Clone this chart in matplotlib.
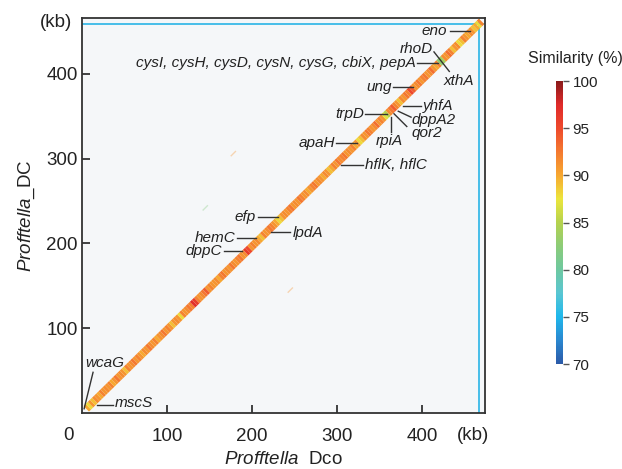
import numpy as np
import matplotlib
matplotlib.use("Agg")
import matplotlib.pyplot as plt
from matplotlib.colors import LinearSegmentedColormap, Normalize
from matplotlib.collections import LineCollection
from matplotlib.cm import ScalarMappable

plt.rcParams['font.family'] = ['Liberation Sans', 'DejaVu Sans']
plt.rcParams['mathtext.fontset'] = 'custom'
plt.rcParams['mathtext.it'] = 'Liberation Sans:italic'
plt.rcParams['mathtext.rm'] = 'Liberation Sans'

# ---------------- data ----------------
genome_dco_kb = 467   # Profftella Dco length (x)
genome_dc_kb = 459    # Profftella_DC length (y)
first_block_kb = 5
block_kb = 2.5
# similarity (%) of consecutive 2.5-kb alignment blocks along the diagonal
block_similarity = [
    90, 88, 91, 89, 91.5, 91, 90, 92, 91, 91.5,
    91, 92, 90, 91, 92.5, 91, 91.5, 91, 89, 92,
    91, 91.5, 92.5, 91, 92, 91, 90, 91.5, 91, 92.5,
    91.5, 91, 92, 90, 91, 91.5, 92.5, 91, 92, 91,
    89, 91, 91.5, 91, 88, 92, 91, 91.5, 92.5, 92,
    97, 96, 92, 91, 91.5, 92.5, 94, 91, 92, 91,
    91, 91.5, 90, 92, 92.5, 91, 91.5, 91, 92.5, 91.5,
    91, 92, 92.5, 91, 91.5, 96, 95, 91, 92, 91,
    91.5, 90, 89, 92, 91, 91.5, 92.5, 92, 91, 90,
    88, 89, 91, 91.5, 91, 92, 92.5, 91, 91.5, 91,
    92.5, 92, 91, 91.5, 90, 91, 92, 92.5, 91, 91.5,
    91, 90, 91.5, 91, 89, 90, 92, 91, 92.5, 91.5,
    92, 92.5, 91, 91.5, 91, 92, 90, 91, 88, 89,
    91.5, 91, 92.5, 92, 91, 91.5, 93, 91, 92, 91,
    87, 85, 91.5, 92.5, 94, 92, 91, 89, 91.5, 91,
    92.5, 92, 95, 94, 91, 91.5, 92.5, 91, 92, 92.5,
    91, 91.5, 93, 91, 90, 92, 83, 84, 91.5, 91,
    93, 92, 89, 91, 91.5, 88, 89, 92, 91, 90,
    91.5, 91, 89, 90, 88, 92]

# faint off-diagonal hits (x kb, y kb, similarity)
off_x = [145, 245, 178]
off_y = [242, 145, 306]
off_sim = [82, 91, 91]

genes = ['eno', 'rhoD', 'xthA', 'cysI, cysH, cysD, cysN, cysG, cbiX, pepA', 'ung', 'yhfA',
         'trpD', 'dppA2', 'qor2', 'rpiA', 'apaH', 'hflK, hflC', 'efp', 'lpdA', 'hemC',
         'dppC', 'wcaG', 'mscS']

# ---------------- layout for labels ----------------
label_pos = [(429, 451, 'right'), (413, 429, 'right'), (425, 392, 'left'),
             (392, 413, 'right'), (365, 385, 'right'), (401, 362, 'left'),
             (332, 353, 'right'), (388, 346, 'left'), (388, 330, 'left'),
             (361, 321, 'center'), (298, 318, 'right'), (333, 292, 'left'),
             (204, 231, 'right'), (248, 212, 'left'), (180, 206, 'right'),
             (165, 191, 'right'), (3.5, 59, 'left'), (39, 12, 'left')]
leader = [((433, 456), (451, 451)), ((414, 432), (426, 403)), None,
          ((394, 419), (413, 413)), ((366, 389), (385, 385)), ((378, 399), (362, 362)),
          ((333, 359), (353, 353)), ((372, 387), (356, 349)), ((367, 382), (353, 338)),
          ((363.5, 363.5), (349, 332)), ((299, 323), (318, 318)), ((305, 331), (293, 293)),
          ((207, 231), (231, 231)), ((222, 245), (213, 213)), ((182, 205), (206, 206)),
          ((167, 188), (191, 191)), ((13, 2.5), (48, 5)), ((17.6, 36.5), (9.4, 9.4))]

# ---------------- colormap ----------------
cmap = LinearSegmentedColormap.from_list('sim', [
    (0.0, '#2b5aa8'), (1/12, '#2a88d0'), (2/12, '#1fb8ec'), (3/12, '#5ac6d2'),
    (4/12, '#6ec8a0'), (5/12, '#8ccc78'), (6/12, '#b5d24e'), (7/12, '#ece63c'),
    (8/12, '#f7a830'), (9/12, '#f47a30'), (10/12, '#ee4a2c'), (11/12, '#e02a2a'),
    (1.0, '#8a1a1a')])
norm = Normalize(70, 100)

fig = plt.figure(figsize=(6.22, 4.69), dpi=100)
ax = fig.add_axes([82/622, 1 - 413/469, 403/622, 395/469])
ax.set_facecolor('#f5f7f9')
ax.set_xlim(0, 474)
ax.set_ylim(0, 466)

ratio = (genome_dc_kb + 5) / (genome_dco_kb + 5)
segs = []
for i in range(len(block_similarity)):
    x0 = first_block_kb + i * block_kb
    x1 = x0 + block_kb
    segs.append([(x0, x0 * ratio), (x1, x1 * ratio)])
lc = LineCollection(segs, colors=cmap(norm(np.array(block_similarity))), linewidths=5.6,
                    capstyle='butt', zorder=3)
ax.add_collection(lc)

for x, y, s in zip(off_x, off_y, off_sim):
    ax.plot([x - 2.5, x + 2.5], [y - 2.5, y + 2.5], color=cmap(norm(s)), lw=1.0, alpha=0.35,
            zorder=2)

ax.axvline(genome_dco_kb, color='#2ab4e6', lw=1.2, zorder=2)
ax.axhline(genome_dc_kb, color='#2ab4e6', lw=1.2, zorder=2)

for g, (tx, ty, ha), ld in zip(genes, label_pos, leader):
    ax.text(tx, ty, g, ha=ha, va='center', fontsize=11, style='italic', color='#222222',
            zorder=5)
    if ld is not None:
        ax.plot(ld[0], ld[1], color='#333333', lw=1.0, zorder=4)

ax.set_xticks([100, 200, 300, 400])
ax.set_yticks([100, 200, 300, 400])
ax.tick_params(direction='in', length=6, width=1.3, labelsize=13.5, colors='#333333',
               labelcolor='#222222')
ax.tick_params(axis='y', pad=3)
ax.tick_params(axis='x', pad=11)
for sp in ax.spines.values():
    sp.set_color('#333333')
    sp.set_linewidth(1.3)

ax.text(-10, -27, '0', ha='right', va='center', fontsize=13.5, color='#222222')
ax.text(460, -27, '(kb)', ha='center', va='center', fontsize=13.5, color='#222222',
        clip_on=False)
ax.text(-12, 461, '(kb)', ha='right', va='center', fontsize=13.5, color='#222222',
        clip_on=False)

ax.set_xlabel(r'$\mathit{Profftella}$  Dco', fontsize=13.5, color='#222222', labelpad=4)
ax.set_ylabel(r'$\mathit{Profftella}$_DC', fontsize=13.5, color='#222222', labelpad=7)

cax = fig.add_axes([556/622, 1 - 364/469, 7/622, 283/469])
cb = fig.colorbar(ScalarMappable(norm=norm, cmap=cmap), cax=cax)
cb.outline.set_visible(False)
cb.set_ticks([70, 75, 80, 85, 90, 95, 100])
cax.tick_params(length=4, width=1, labelsize=11, colors='#555555', labelcolor='#222222',
                pad=3)
fig.text(575/622, 1 - 58/469, 'Similarity (%)', ha='center', va='center', fontsize=11.5,
         color='#222222')

fig.savefig('out.png', dpi=100)
